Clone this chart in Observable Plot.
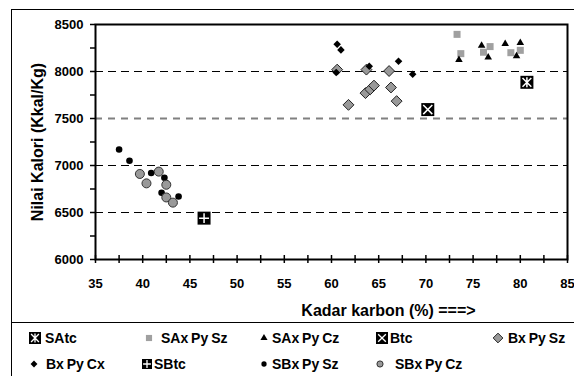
<!DOCTYPE html>
<html><head><meta charset="utf-8">
<script src="https://cdn.jsdelivr.net/npm/d3@7"></script>
<script src="https://cdn.jsdelivr.net/npm/@observablehq/plot@0.6"></script>
<style>
html,body{margin:0;padding:0;background:#fff;overflow:hidden;width:574px;height:376px;}
body{position:relative;font-family:"Liberation Sans",Arial,sans-serif;font-weight:bold;color:#000;}
#chart{position:absolute;left:0;top:0;}
.frameL{position:absolute;left:11px;top:9px;width:1px;height:367px;background:#000;}
.frameT{position:absolute;left:11px;top:9px;width:563px;height:1px;background:#000;}
.sep{position:absolute;left:11px;top:322px;width:563px;height:1px;background:#000;}
.item{position:absolute;font-size:14px;word-spacing:-1px;white-space:nowrap;line-height:16px;}
.sym{position:absolute;}
</style></head>
<body>
<div id="chart"></div>
<div class="frameL"></div><div class="frameT"></div><div class="sep"></div>
<div id="legend"></div>
<script>
// ---- data ----
const SAtc_x = [80.7];
const SAtc_y = [7885];
const SAxPySz_x = [73.3, 73.7, 76.1, 76.8, 79.0, 80.0];
const SAxPySz_y = [8395, 8190, 8205, 8265, 8200, 8225];
const SAxPyCz_x = [73.5, 75.9, 76.6, 78.4, 79.6, 80.0];
const SAxPyCz_y = [8125, 8275, 8150, 8295, 8165, 8305];
const Btc_x = [70.2];
const Btc_y = [7595];
const BxPySz_x = [60.6, 61.8, 63.6, 63.7, 64.1, 64.5, 66.1, 66.3, 66.9];
const BxPySz_y = [8020, 7645, 7770, 8020, 7810, 7850, 8005, 7830, 7685];
const BxPyCx_x = [60.5, 60.6, 61.0, 64.0, 67.1, 68.6];
const BxPyCx_y = [7990, 8290, 8230, 8055, 8110, 7970];
const SBtc_x = [46.5];
const SBtc_y = [6440];
const SBxPySz_x = [37.5, 38.6, 40.9, 42.0, 42.3, 43.8];
const SBxPySz_y = [7170, 7050, 6920, 6710, 6870, 6670];
const SBxPyCz_x = [39.7, 40.4, 41.7, 42.5, 42.5, 43.2];
const SBxPyCz_y = [6910, 6810, 6935, 6795, 6660, 6605];

const seriesNames = ["SAtc", "SAx Py Sz", "SAx Py Cz", "Btc", "Bx Py Sz", "Bx Py Cx", "SBtc", "SBx Py Sz", "SBx Py Cz"];
const xTickValues = d3.range(35, 85.01, 2.5);
const yTickValues = d3.range(6000, 8500.01, 250);
const gridBlack = [6500, 7000, 8000];
const gridGray = [7500];
const xTitle = "Kadar karbon (%) ===>";
const yTitle = "Nilai Kalori (Kkal/Kg)";

const rows = (xs, ys) => xs.map((x, i) => ({x, y: ys[i]}));

// custom marker: X with a vertical bar
const symbolTimesBar = {
  draw(context, size) {
    const r = Math.sqrt(size) * 0.62;
    context.moveTo(-r, -r); context.lineTo(r, r);
    context.moveTo(-r, r); context.lineTo(r, -r);
    context.moveTo(0, -r * 1.15); context.lineTo(0, r * 1.15);
  }
};

const boxed = (data, inner, innerR) => [
  Plot.dot(data, {x: "x", y: "y", symbol: "square", r: 7.33, fill: "#000"}),
  Plot.dot(data, {x: "x", y: "y", symbol: inner, r: innerR, stroke: "#fff", fill: "none", strokeWidth: 1.5})
];

const marks = [
  Plot.ruleY(gridBlack, {stroke: "#000", strokeWidth: 1, strokeDasharray: "8,5"}),
  Plot.ruleY(gridGray, {stroke: "#808080", strokeWidth: 2, strokeDasharray: "7,6"}),
  Plot.axisY({ticks: yTickValues, tickSize: 5, tickPadding: 7, strokeWidth: 1.5,
    tickFormat: d => d % 500 === 0 ? String(d) : "", label: null, fontSize: 13}),
  Plot.axisX({ticks: xTickValues, tickSize: 4, tickPadding: 15, strokeWidth: 1.5,
    tickFormat: d => d % 5 === 0 ? String(d) : "", label: null, fontSize: 13}),
  Plot.tickX(xTickValues, {x: d => d, insetTop: 231, strokeWidth: 1.5, stroke: "#000"}),
  Plot.frame({stroke: "#000", strokeWidth: 2}),
  ...boxed(rows(SAtc_x, SAtc_y), symbolTimesBar, 4.0),
  Plot.dot(rows(SAxPySz_x, SAxPySz_y), {x: "x", y: "y", symbol: "square", r: 3.95, fill: "#a0a0a0"}),
  Plot.dot(rows(SAxPyCz_x, SAxPyCz_y), {x: "x", y: "y", symbol: "triangle", r: 2.8, fill: "#000"}),
  ...boxed(rows(Btc_x, Btc_y), "times", 4.2),
  Plot.dot(rows(BxPySz_x, BxPySz_y), {x: "x", y: "y", symbol: "diamond2", r: 4.9, fill: "#999", stroke: "#222", strokeWidth: 1}),
  Plot.dot(rows(BxPyCx_x, BxPyCx_y), {x: "x", y: "y", symbol: "diamond2", r: 3.4, fill: "#000"}),
  ...boxed(rows(SBtc_x, SBtc_y), "plus", 3.3),
  Plot.dot(rows(SBxPySz_x, SBxPySz_y), {x: "x", y: "y", symbol: "circle", r: 3.3, fill: "#000"}),
  Plot.dot(rows(SBxPyCz_x, SBxPyCz_y), {x: "x", y: "y", symbol: "circle", r: 4.5, fill: "#999", stroke: "#333", strokeWidth: 1}),
  Plot.text([yTitle], {frameAnchor: "left", dx: -58, rotate: -90, textAnchor: "middle", lineAnchor: "middle", fontSize: 16, fontWeight: "bold"}),
  Plot.text([xTitle], {frameAnchor: "bottom", dx: 57, dy: 51, textAnchor: "middle", lineAnchor: "middle", fontSize: 16, fontWeight: "bold"})
];

const chart = Plot.plot({
  width: 574, height: 322,
  marginLeft: 95, marginRight: 7, marginTop: 24, marginBottom: 63,
  x: {domain: [35, 85]},
  y: {domain: [6000, 8500]},
  style: {fontFamily: "'Liberation Sans', Arial, sans-serif", fontSize: "13px", fontWeight: "bold", color: "#000", background: "transparent"},
  marks
});
document.getElementById("chart").appendChild(chart);

// ---- legend ----
const legendLayout = [
  {sx: 35, tx: 45, y: 338, kind: "box", inner: symbolTimesBar, innerSize: 40, box: 12},
  {sx: 149, tx: 161, y: 338, kind: "sym", type: d3.symbolSquare, size: 38, fill: "#a0a0a0"},
  {sx: 264, tx: 272, y: 338, kind: "sym", type: d3.symbolTriangle, size: 22, fill: "#000"},
  {sx: 382, tx: 390, y: 338, kind: "box", inner: d3.symbolTimes, innerSize: 40, box: 12},
  {sx: 498, tx: 508, y: 338, kind: "sym", type: d3.symbolDiamond2, size: 60, fill: "#999", stroke: "#222"},
  {sx: 34, tx: 46, y: 364, kind: "sym", type: d3.symbolDiamond2, size: 30, fill: "#000"},
  {sx: 147, tx: 154, y: 364, kind: "box", inner: d3.symbolPlus, innerSize: 22, box: 10},
  {sx: 264, tx: 272, y: 364, kind: "sym", type: d3.symbolCircle, size: 22, fill: "#000"},
  {sx: 380, tx: 395, y: 364, kind: "sym", type: d3.symbolCircle, size: 30, fill: "#999", stroke: "#333"}
];
const legend = document.getElementById("legend");
legendLayout.forEach((e, i) => {
  const svg = d3.create("svg").attr("class", "sym").attr("width", 16).attr("height", 16)
    .style("left", (e.sx - 8) + "px").style("top", (e.y - 8) + "px");
  const g = svg.append("g").attr("transform", "translate(8,8)");
  if (e.kind === "box") {
    g.append("rect").attr("x", -e.box / 2).attr("y", -e.box / 2).attr("width", e.box).attr("height", e.box).attr("fill", "#000");
    g.append("path").attr("d", d3.symbol(e.inner, e.innerSize)()).attr("fill", "none").attr("stroke", "#fff").attr("stroke-width", 1.3);
  } else {
    g.append("path").attr("d", d3.symbol(e.type, e.size)()).attr("fill", e.fill)
      .attr("stroke", e.stroke || "none").attr("stroke-width", 1);
  }
  legend.appendChild(svg.node());
  const t = document.createElement("div");
  t.className = "item";
  t.style.left = e.tx + "px";
  t.style.top = (e.y - 8) + "px";
  t.textContent = seriesNames[i];
  legend.appendChild(t);
});
</script>
</body></html>
